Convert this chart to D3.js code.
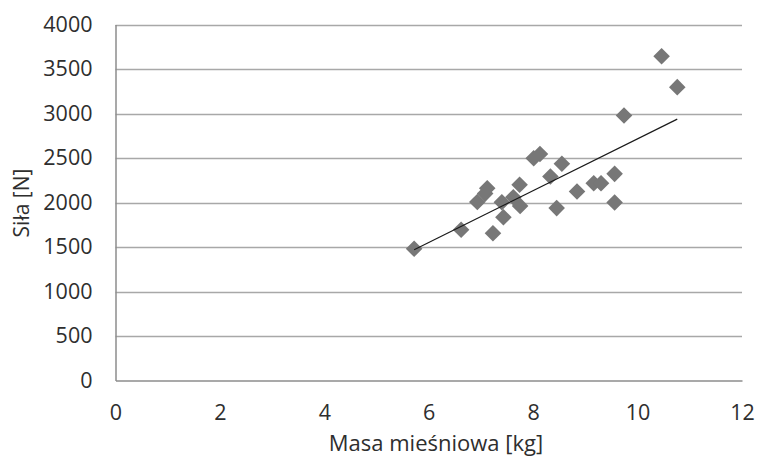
<!DOCTYPE html>
<html lang="pl"><head>
<meta charset="utf-8">
<title>Siła vs masa mięśniowa</title>
<script src="https://cdn.jsdelivr.net/npm/d3@7"></script>
<style>
body { margin: 0; background: #fff; }
text { font-family: "Open Sans", Lato, sans-serif; fill: #2e2e2e; }
</style>
</head>
<body>
<script type="text/javascript">

var width = 762;
var height = 462;

// masa mięśniowa [kg]
var masa = [5.72, 6.62, 6.93, 7.08, 7.12, 7.23, 7.40, 7.43, 7.62, 7.74, 7.75,
            8.01, 8.13, 8.33, 8.45, 8.55, 8.84, 9.16, 9.30, 9.56, 9.56,
            9.74, 10.46, 10.76];
// siła [N]
var sila = [1480, 1693, 2005, 2100, 2160, 1655, 2003, 1835, 2060, 2200, 1962,
            2498, 2545, 2292, 1937, 2435, 2124, 2217, 2217, 2322, 2000,
            2978, 3644, 3296];
// linia trendu
var trendX = [5.72, 10.76];
var trendY = [1470, 2937];

var xTicks = [0, 2, 4, 6, 8, 10, 12];
var yTicks = [0, 500, 1000, 1500, 2000, 2500, 3000, 3500, 4000];

var svg = d3.select("body").append("svg")
            .attr("width", width)
            .attr("height", height);

var x = d3.scaleLinear().domain([0, 12]).range([115.5, 742]);
var y = d3.scaleLinear().domain([0, 4000]).range([380.5, 24.5]);

// gridlines
svg.append("g")
    .selectAll("line")
    .data(yTicks.slice(1))
    .enter()
    .append("line")
    .attr("x1", x(0)).attr("x2", x(12))
    .attr("y1", (d) => Math.round(y(d)) + 0.5)
    .attr("y2", (d) => Math.round(y(d)) + 0.5)
    .attr("stroke", "#a8a8a8")
    .attr("stroke-width", 1.3);

// axes
var yAxis = svg.append("g")
    .attr("transform", "translate(" + x(0) + ",0)")
    .call(d3.axisLeft(y).tickValues(yTicks).tickFormat(d3.format("d"))
          .tickSize(0).tickPadding(23));
var xAxis = svg.append("g")
    .attr("transform", "translate(0," + y(0) + ")")
    .call(d3.axisBottom(x).tickValues(xTicks).tickFormat(d3.format("d"))
          .tickSize(0).tickPadding(24));

[yAxis, xAxis].forEach((a) => {
    a.select(".domain").attr("stroke", "#8c8c8c").attr("stroke-width", 1.5);
    a.selectAll("text")
        .style("font-family", "'Open Sans', Lato, sans-serif")
        .style("font-size", "21.5px")
        .attr("fill", "#2e2e2e");
});

// points
var diamond = d3.symbol().type(d3.symbolDiamond2).size(175);
svg.append("g")
    .selectAll("path")
    .data(masa.map((m, i) => [m, sila[i]]))
    .enter()
    .append("path")
    .attr("d", diamond)
    .attr("transform", (d) => "translate(" + x(d[0]) + "," + y(d[1]) + ")")
    .attr("fill", "#777777");

// trend line
svg.append("line")
    .attr("x1", x(trendX[0])).attr("y1", y(trendY[0]))
    .attr("x2", x(trendX[1])).attr("y2", y(trendY[1]))
    .attr("stroke", "#1a1a1a")
    .attr("stroke-width", 1.2);

// axis titles
svg.append("text")
    .attr("x", 436).attr("y", 451)
    .attr("text-anchor", "middle")
    .style("font-size", "22px")
    .text("Masa mieśniowa [kg]");

svg.append("text")
    .attr("transform", "translate(29,203) rotate(-90)")
    .attr("text-anchor", "middle")
    .style("font-size", "21px")
    .text("Siła [N]");

</script>
</body></html>
